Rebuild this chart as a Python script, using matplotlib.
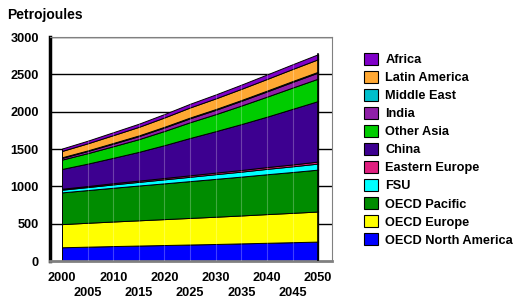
import matplotlib.pyplot as plt
import matplotlib.patches as mpatches
import numpy as np

plt.rcParams['font.family'] = ['Liberation Sans', 'DejaVu Sans']
plt.rcParams['font.weight'] = 'bold'

years = [2000, 2005, 2010, 2015, 2020, 2025, 2030, 2035, 2040, 2045, 2050]

# bottom -> top of the stack
names = ['OECD North America', 'OECD Europe', 'OECD Pacific', 'FSU', 'Eastern Europe',
         'China', 'Other Asia', 'India', 'Middle East', 'Latin America', 'Africa']
na = [184, 192, 200, 207, 214, 221, 228, 236, 244, 252, 260]
europe = [310, 320, 329, 338, 347, 356, 365, 374, 384, 393, 403]
pacific = [425, 438, 452, 466, 479, 493, 507, 520, 534, 547, 561]
fsu = [36, 40, 45, 49, 54, 58, 63, 67, 72, 76, 81]
east_eu = [13, 14, 16, 17, 18, 20, 21, 22, 24, 25, 27]
china = [265, 300, 340, 385, 440, 500, 555, 615, 675, 745, 811]
other_asia = [125, 140, 155, 170, 190, 211, 228, 248, 268, 285, 300]
india = [23, 29, 35, 41, 47, 53, 58, 64, 70, 76, 81]
mid_east = [8, 8, 9, 9, 9, 10, 10, 10, 11, 11, 11]
lat_am = [85, 95, 105, 115, 125, 135, 143, 150, 156, 162, 168]
africa = [32, 35, 39, 42, 46, 49, 53, 56, 60, 63, 67]

colors = ['#0000FF', '#FFFF00', '#008C00', '#00FFFF', '#E0207F',
          '#3D0090', '#00CC00', '#9020A8', '#00BFCC', '#FFA833', '#8000C8']

series = [na, europe, pacific, fsu, east_eu, china, other_asia, india, mid_east, lat_am, africa]

fig = plt.figure(figsize=(5.23, 2.99), dpi=100)
ax = fig.add_axes([50/523, 1 - 261/299, 282/523, 224/299])

ax.set_xlim(1997.66, 2052.7)
ax.set_ylim(0, 3000)

for yv in range(500, 3001, 500):
    ax.axhline(yv, color='black', lw=1.0, zorder=0)

ax.stackplot(years, *series, colors=colors, edgecolor='black', linewidth=0.7, zorder=2)

# faint vertical grid lines on the area faces
total = np.sum(series, axis=0)
for x, t in zip(years[1:-1], total[1:-1]):
    ax.plot([x, x], [0, t], color='white', alpha=0.25, lw=0.8, zorder=3)

# right side face for a bit of depth
ax.plot([2050, 2050], [0, total[-1]], color='black', lw=1.2, zorder=4)

ax.set_yticks(range(0, 3001, 500))
ax.set_yticklabels([str(v) for v in range(0, 3001, 500)], fontsize=9.2, fontweight='bold')

# staggered year labels: even decades on row 1, mid-decades on row 2
ax.set_xticks(years[0::2])
ax.set_xticklabels([str(y) for y in years[0::2]], fontsize=9.2, fontweight='bold')
ax.set_xticks(years[1::2], minor=True)
ax.set_xticklabels([str(y) for y in years[1::2]], minor=True, fontsize=9.2, fontweight='bold')
ax.tick_params(axis='x', which='major', length=0, pad=8)
ax.tick_params(axis='x', which='minor', length=0, pad=19)
ax.tick_params(axis='y', length=0, pad=8)

for s in ['top', 'right']:
    ax.spines[s].set_color('#808080')
ax.spines['left'].set_linewidth(2.5)
ax.spines['bottom'].set_color('#808080')
ax.spines['bottom'].set_linewidth(2)

fig.text(7/523, 1 - 15/299, 'Petrojoules', fontsize=10, fontweight='bold', va='center')

handles = [mpatches.Patch(facecolor=c, edgecolor='black', linewidth=0.8, label=n)
           for n, c in zip(names, colors)][::-1]
fig.legend(handles=handles, loc='upper left', bbox_to_anchor=(359/523, 1 - 48/299),
           frameon=False, fontsize=9.2, labelspacing=0.37, handlelength=1.05,
           handleheight=1.05, handletextpad=0.6, borderaxespad=0)

fig.savefig('out.png', dpi=100)
